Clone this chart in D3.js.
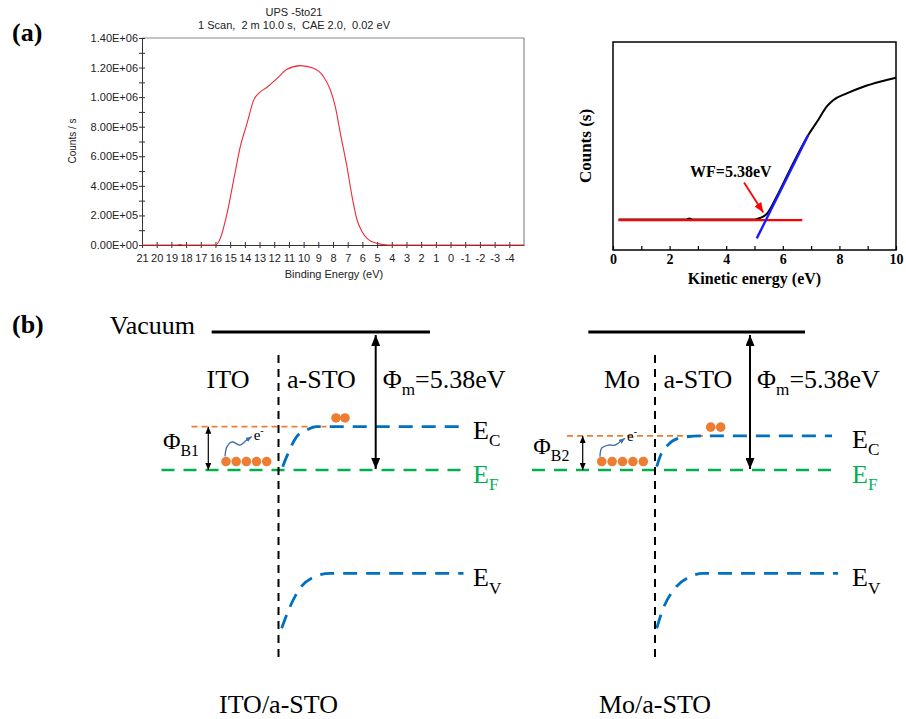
<!DOCTYPE html>
<html>
<head>
<meta charset="utf-8">
<script src="https://cdn.jsdelivr.net/npm/d3@7"></script>
<style>
  body { margin: 0; background: #fff; }
  svg { display: block; }
</style>
</head>
<body>
<svg id="fig" width="906" height="719"></svg>
<script>
// ---------- (a) left: UPS survey scan ----------
const upsBinding = [21, 18.6, 18.4, 18.2, 16.0, 15.67, 15.21, 14.76, 14.31, 13.85, 13.40, 13.06, 12.49, 11.81, 11.13, 10.22,
                    9.32, 8.64, 8.18, 7.84, 7.50, 7.05, 6.70, 6.36, 6.02, 5.68, 5.0, 4.2, -5];
const upsCounts = [0, 0, 3000, 0, 0, 45000, 214000, 440000, 665000, 823000, 980000, 1026000, 1067000, 1127000, 1188000, 1213000,
                   1195000, 1138000, 1048000, 935000, 755000, 530000, 327000, 169000, 90000, 45000, 11000, 0, 0];
const upsTitle = ['UPS -5to21', '1 Scan,  2 m 10.0 s,  CAE 2.0,  0.02 eV'];

// ---------- (a) right: cut-off region ----------
const keEnergy = [0.2, 2.6, 2.7, 2.8, 5.0, 5.08, 5.43, 5.78, 6.25, 6.9, 7.25, 7.55, 7.79, 8.26, 8.85, 9.43, 10];
const keCounts = [0.147, 0.147, 0.152, 0.147, 0.147, 0.149, 0.173, 0.256, 0.385, 0.553, 0.625, 0.689, 0.721, 0.753, 0.785, 0.809, 0.828];
const baselineFit = [[0.19, 0.144], [6.69, 0.144]];
const slopeFit = [[5.08, 0.056], [6.90, 0.553]];
const wfArrow = [[4.63, 0.324], [5.31, 0.180]];
const wfText = 'WF=5.38eV';

// ---------- (b) band diagrams (energy in eV from vacuum, distance in arb. units from interface) ----------
const workFunction = 5.38;
const metals = ['ITO', 'Mo'];
const junctions = ['ITO/a-STO', 'Mo/a-STO'];
const barriers = ['B1', 'B2'];
const ecLevel = [-3.69, -4.05];
const ecBand = [
  [[0.42, -5.25], [0.82, -4.86], [1.82, -4.08], [2.82, -3.82], [3.82, -3.69], [18.3, -3.69]],
  [[0.17, -5.25], [0.5, -4.86], [1.33, -4.39], [2.5, -4.13], [4.5, -4.05], [17.7, -4.05]]
];
const evBand = [
  [[0.32, -11.55], [1.15, -10.71], [2.15, -9.99], [3.48, -9.56], [5.15, -9.41], [18.5, -9.41]],
  [[0.17, -11.55], [0.83, -10.77], [2.0, -9.99], [3.5, -9.54], [4.83, -9.41], [18.3, -9.41]]
];
const vacuumSpan = [[-6.68, 15.15], [-6.67, 15.0]];
const efSpan = [[-11.7, 18.3], [-12.3, 17.7]];
const barrierSpan = [[-8.7, 4.8], [-8.8, 5.2]];
const phiArrowX = [9.72, 9.5];
const barrierArrowX = [-7.02, -7.23];
const freeElectrons = [[5.75, 6.65], [5.57, 6.57]];
const metalElectrons = [[-5.25, -4.23, -3.21, -2.2, -1.18], [-5.33, -4.29, -3.25, -2.21, -1.17]];
const hopPath = [
  [[-5.35, -4.85], [-5.15, -4.47], [-4.65, -4.28], [-3.85, -4.41], [-3.18, -4.21], [-2.68, -4.08]],
  [[-5.5, -4.86], [-5.33, -4.53], [-4.67, -4.41], [-4.0, -4.41], [-3.5, -4.28], [-3.0, -4.14]]
];
const interfaceSpan = [-0.9, -12.67];

const SERIF = "'Liberation Serif', 'Times New Roman', serif";
const SANS = "'Liberation Sans', Arial, sans-serif";
const svg = d3.select('#fig');

// arrow heads
const defs = svg.append('defs');
function marker(id, color, w, h) {
  defs.append('marker')
    .attr('id', id)
    .attr('viewBox', `0 0 ${w} ${h}`)
    .attr('refX', w).attr('refY', h / 2)
    .attr('markerWidth', w).attr('markerHeight', h)
    .attr('markerUnits', 'userSpaceOnUse')
    .attr('orient', 'auto-start-reverse')
    .append('path').attr('d', `M0,0L${w},${h / 2}L0,${h}Z`).attr('fill', color);
}
marker('arrBlack', '#000', 11, 9);
marker('arrThin', '#000', 7, 6);
marker('arrRed', '#ff0000', 10, 8);
marker('arrBlue', '#3b6ea8', 6, 5);

// panel letters
svg.append('text').attr('x', 12).attr('y', 41).text('(a)')
  .style('font-family', SERIF).style('font-weight', 'bold').style('font-size', '26px');
svg.append('text').attr('x', 12).attr('y', 333).text('(b)')
  .style('font-family', SERIF).style('font-weight', 'bold').style('font-size', '26px');

// ================= UPS survey =================
function sciFormat(d) {
  if (d === 0) return '0.00E+00';
  const e = Math.floor(Math.log10(d));
  return (d / Math.pow(10, e)).toFixed(2) + 'E+' + String(e).padStart(2, '0');
}
function drawUps() {
  const x = d3.scaleLinear().domain([21, -5]).range([142, 524]);
  const y = d3.scaleLinear().domain([0, 1.4e6]).range([245, 38]);
  const g = svg.append('g');

  // gray top/right border
  g.append('path')
    .attr('d', `M${x(21)},${y(1.4e6)}H${x(-5)}V${y(0)}`)
    .attr('fill', 'none').attr('stroke', '#8a8a8a').attr('stroke-width', 1.2);

  const yAxis = d3.axisLeft(y)
    .tickValues(d3.range(0, 1.40001e6, 1e5))
    .tickFormat(d => (Math.round(d / 1e5) % 2 === 0 ? sciFormat(d) : ''))
    .tickSizeInner(3).tickSizeOuter(0).tickPadding(1);
  const ya = g.append('g').attr('transform', `translate(${x(21)},0)`).call(yAxis);
  ya.selectAll('.tick line').attr('x1', 3).attr('stroke', '#333');
  ya.select('.domain').attr('stroke', '#333');
  ya.selectAll('text').style('font-family', SANS).style('font-size', '11px').attr('fill', '#222');

  const xAxis = d3.axisBottom(x)
    .tickValues(d3.range(-4, 22))
    .tickFormat(d => String(d))
    .tickSizeInner(3).tickSizeOuter(0).tickPadding(6);
  const xa = g.append('g').attr('transform', `translate(0,${y(0)})`).call(xAxis);
  xa.selectAll('.tick line').attr('y1', -3).attr('stroke', '#333');
  xa.select('.domain').attr('stroke', '#333');
  xa.selectAll('text').style('font-family', SANS).style('font-size', '11px').attr('fill', '#222');

  const line = d3.line().x((d, i) => x(upsBinding[i])).y(d => y(d)).curve(d3.curveMonotoneX);
  g.append('path').datum(upsCounts).attr('d', line)
    .attr('fill', 'none').attr('stroke', '#ec2b36').attr('stroke-width', 1.1);

  upsTitle.forEach((t, i) => {
    g.append('text').attr('x', 294).attr('y', 16 + i * 12.5).attr('text-anchor', 'middle').text(t)
      .style('white-space', 'pre')
      .style('font-family', SANS).style('font-size', '11px').attr('fill', '#222');
  });
  g.append('text').attr('x', 334).attr('y', 278).attr('text-anchor', 'middle').text('Binding Energy (eV)')
    .style('font-family', SANS).style('font-size', '11px').attr('fill', '#222');
  g.append('text').attr('transform', 'translate(76,141) rotate(-90)').attr('text-anchor', 'middle').text('Counts / s')
    .style('font-family', SANS).style('font-size', '10px').attr('fill', '#222');
}

// ================= Kinetic energy cut-off =================
function drawCutoff() {
  const x = d3.scaleLinear().domain([0, 10]).range([613, 896]);
  const y = d3.scaleLinear().domain([0, 1]).range([250, 42]);
  const g = svg.append('g');

  const xAxis = d3.axisBottom(x)
    .tickValues(d3.range(0, 11))
    .tickFormat(d => (d % 2 === 0 ? String(d) : ''))
    .tickSizeInner(-4).tickSizeOuter(0).tickPadding(4);
  const xa = g.append('g').attr('transform', `translate(0,${y(0)})`).call(xAxis);
  xa.select('.domain').remove();
  xa.selectAll('.tick line').attr('stroke', '#000').attr('stroke-width', 1.2);
  xa.selectAll('text').style('font-family', SERIF).style('font-weight', 'bold').style('font-size', '14px').attr('fill', '#000');

  g.append('rect').attr('x', x(0)).attr('y', y(1)).attr('width', x(10) - x(0)).attr('height', y(0) - y(1))
    .attr('fill', 'none').attr('stroke', '#000').attr('stroke-width', 1.5);

  const line = d3.line().x(d => x(d[0])).y(d => y(d[1]));
  g.append('path').datum(keEnergy.map((e, i) => [e, keCounts[i]])).attr('d', line.curve(d3.curveMonotoneX))
    .attr('fill', 'none').attr('stroke', '#000').attr('stroke-width', 2);
  line.curve(d3.curveLinear);
  g.append('path').datum(baselineFit).attr('d', line)
    .attr('fill', 'none').attr('stroke', '#ff0000').attr('stroke-width', 2.2);
  g.append('path').datum(slopeFit).attr('d', line)
    .attr('fill', 'none').attr('stroke', '#1a1aff').attr('stroke-width', 2.4);
  g.append('path').datum(wfArrow).attr('d', line)
    .attr('fill', 'none').attr('stroke', '#ff0000').attr('stroke-width', 1.8).attr('marker-end', 'url(#arrRed)');

  g.append('text').attr('x', 690).attr('y', 177).text(wfText)
    .style('font-family', SERIF).style('font-weight', 'bold').style('font-size', '16px');
  g.append('text').attr('x', (x(0) + x(10)) / 2).attr('y', 284).attr('text-anchor', 'middle').text('Kinetic energy (eV)')
    .style('font-family', SERIF).style('font-weight', 'bold').style('font-size', '16px');
  g.append('text').attr('transform', `translate(591,${(y(0) + y(1)) / 2}) rotate(-90)`).attr('text-anchor', 'middle')
    .text('Counts (s)')
    .style('font-family', SERIF).style('font-weight', 'bold').style('font-size', '17px');
}

// ================= Band diagrams =================
const interfacePx = [278.5, 655];
const yE = d3.scaleLinear().domain([0, -workFunction]).range([332, 470]);

function subText(g, xPos, yPos, main, sub, size, color, anchor) {
  const t = g.append('text').attr('x', xPos).attr('y', yPos).attr('text-anchor', anchor || 'start')
    .style('font-family', SERIF).style('font-size', size + 'px').attr('fill', color || '#000');
  t.append('tspan').text(main);
  t.append('tspan').text(sub).attr('dy', size * 0.28).style('font-size', (size * 0.66) + 'px');
  return t;
}

function drawBand(i) {
  const x = d3.scaleLinear().domain([-20, 20]).range([interfacePx[i] - 200, interfacePx[i] + 200]);
  const g = svg.append('g');
  const line = d3.line().x(d => x(d[0])).y(d => yE(d[1]));

  // Fermi level
  g.append('line').attr('x1', x(efSpan[i][0])).attr('x2', x(efSpan[i][1]))
    .attr('y1', yE(-workFunction)).attr('y2', yE(-workFunction))
    .attr('stroke', '#00b050').attr('stroke-width', 2.6).attr('stroke-dasharray', '13,9');
  // barrier level (metal side)
  g.append('line').attr('x1', x(barrierSpan[i][0])).attr('x2', x(barrierSpan[i][1]))
    .attr('y1', yE(ecLevel[i])).attr('y2', yE(ecLevel[i]))
    .attr('stroke', '#ed7d31').attr('stroke-width', 1.6).attr('stroke-dasharray', '6,4');
  // conduction and valence bands
  [ecBand[i], evBand[i]].forEach(band => {
    g.append('path').datum(band).attr('d', line.curve(d3.curveMonotoneX))
      .attr('fill', 'none').attr('stroke', '#0070c0').attr('stroke-width', 2.8).attr('stroke-dasharray', '14,9');
  });
  line.curve(d3.curveLinear);
  // vacuum level
  g.append('line').attr('x1', x(vacuumSpan[i][0])).attr('x2', x(vacuumSpan[i][1]))
    .attr('y1', yE(0)).attr('y2', yE(0)).attr('stroke', '#000').attr('stroke-width', 3);
  // interface
  g.append('line').attr('x1', x(0)).attr('x2', x(0))
    .attr('y1', yE(interfaceSpan[0])).attr('y2', yE(interfaceSpan[1]))
    .attr('stroke', '#000').attr('stroke-width', 2).attr('stroke-dasharray', '8,6');
  // work function arrow
  g.append('line').attr('x1', x(phiArrowX[i])).attr('x2', x(phiArrowX[i]))
    .attr('y1', yE(0) + 3).attr('y2', yE(-workFunction) - 1)
    .attr('stroke', '#000').attr('stroke-width', 2)
    .attr('marker-start', 'url(#arrBlack)').attr('marker-end', 'url(#arrBlack)');
  // barrier arrow
  g.append('line').attr('x1', x(barrierArrowX[i])).attr('x2', x(barrierArrowX[i]))
    .attr('y1', yE(ecLevel[i])).attr('y2', yE(-workFunction))
    .attr('stroke', '#000').attr('stroke-width', 1.2)
    .attr('marker-start', 'url(#arrThin)').attr('marker-end', 'url(#arrThin)');
  // electrons
  g.selectAll('circle.free').data(freeElectrons[i]).join('circle')
    .attr('cx', d => x(d)).attr('cy', yE(ecLevel[i] + 0.34)).attr('r', 4.8).attr('fill', '#ed7d31');
  g.selectAll('circle.metal').data(metalElectrons[i]).join('circle')
    .attr('cx', d => x(d)).attr('cy', yE(-workFunction + 0.33)).attr('r', 4.8).attr('fill', '#ed7d31');
  // hopping electron
  g.append('path').datum(hopPath[i]).attr('d', line.curve(d3.curveCatmullRom))
    .attr('fill', 'none').attr('stroke', '#3b6ea8').attr('stroke-width', 1.3).attr('marker-end', 'url(#arrBlue)');
  line.curve(d3.curveLinear);
  const tip = hopPath[i][hopPath[i].length - 1];
  const e = g.append('text').attr('x', x(tip[0]) + 2).attr('y', yE(tip[1]) + 3)
    .style('font-family', SERIF).style('font-size', '15px');
  e.append('tspan').text('e');
  e.append('tspan').text('-').attr('dy', -6).style('font-size', '10px');

  // labels
  const labelY = yE(-2.18);
  g.append('text').attr('x', x(i === 0 ? -5.05 : -3.3)).attr('y', labelY).attr('text-anchor', 'middle').text(metals[i])
    .style('font-family', SERIF).style('font-size', '26px');
  g.append('text').attr('x', x(0.85)).attr('y', labelY).text('a-STO')
    .style('font-family', SERIF).style('font-size', '26px');
  const phi = subText(g, x(phiArrowX[i] + 0.7), labelY, 'Φ', 'm', 26);
  phi.append('tspan').text('=' + workFunction.toFixed(2) + 'eV').attr('dy', -26 * 0.28);
  subText(g, x(i === 0 ? -11.55 : -12.17), (yE(ecLevel[i]) + yE(-workFunction)) / 2 + 1, 'Φ', barriers[i], 24);

  const lx = x(i === 0 ? 19.45 : 19.7);
  subText(g, lx, yE(ecLevel[i]) + 12, 'E', 'C', 26);
  subText(g, lx, yE(-workFunction) + 13, 'E', 'F', 26, '#00b050');
  subText(g, lx, yE(-9.41) + 13, 'E', 'V', 26);

  g.append('text').attr('x', x(0)).attr('y', 713).attr('text-anchor', 'middle').text(junctions[i])
    .style('font-family', SERIF).style('font-size', '26px');
}

drawUps();
drawCutoff();
svg.append('text').attr('x', 195).attr('y', 334).attr('text-anchor', 'end').text('Vacuum')
  .style('font-family', SERIF).style('font-size', '26px');
drawBand(0);
drawBand(1);
</script>
</body>
</html>
